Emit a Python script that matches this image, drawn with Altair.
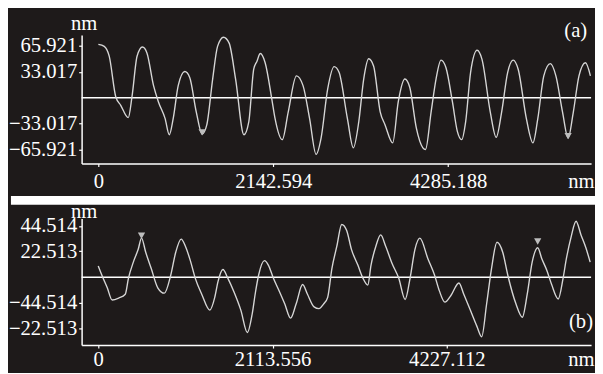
import altair as alt
import pandas as pd

# ---------------- Panel (a) ----------------
a_x = [0, 72, 133, 214, 274, 366, 414, 474, 540, 595, 676, 736, 817, 869, 917, 978,
       1059, 1119, 1199, 1271, 1328, 1400, 1460, 1533, 1602, 1681, 1783, 1843, 1903,
       1943, 1983, 2043, 2124, 2164, 2253, 2326, 2426, 2507, 2587, 2667, 2728, 2809,
       2888, 2949, 3050, 3123, 3190, 3250, 3311, 3371, 3452, 3512, 3605, 3673, 3754,
       3814, 3895, 3975, 4007, 4076, 4136, 4197, 4257, 4337, 4397, 4450, 4499, 4559,
       4639, 4699, 4800, 4873, 4940, 5013, 5081, 5142, 5242, 5323, 5383, 5456, 5536,
       5604, 5685, 5754, 5818, 5887, 5966, 6027]
a_y = [67.9, 65.4, 52.9, 0.9, -9.6, -25.4, 2.9, 52.9, 64.6, 57.1, 15.4, -5.4, -26.3,
       -47.1, -26.3, 15.4, 33.4, 25.9, -17.9, -46.3, -34.6, 23.8, 65.4, 77.1, 69.6,
       23.8, -47.1, -30.4, 36.3, 46.6, 56.3, 44.6, -1.3, -26.3, -53.4, -17.9, 27.9,
       15.4, -26.3, -72.1, -51.3, 11.3, 39.6, 32.1, -26.3, -63.8, -30.4, 23.8, 49.6,
       40.4, -17.9, -34.6, -57.5, -5.4, 23.8, 13.4, -38.8, -63.8, -65.9, -17.9, 23.8,
       47.9, 38.4, -5.4, -42.9, -53.4, -30.4, 32.1, 60.4, 48.8, -17.9, -50.4, -17.9,
       32.1, 47.9, 36.3, -26.3, -57.5, -26.3, 27.9, 43.4, 27.9, -17.9, -51.3, -17.9,
       27.9, 44.6, 27.9]
a_mark_x = [1271, 5754]
a_mark_y = [-44, -49]
a_xticks = [0, 2142.594, 4285.188]
a_xlabels = ["0", "2142.594", "4285.188"]
a_yticks = [65.921, 33.017, -33.017, -65.921]
a_ylabels = ["65.921", "33.017", "\u221233.017", "\u221265.921"]

# ---------------- Panel (b) ----------------
b_x = [0, 51, 110, 169, 249, 328, 367, 426, 485, 525, 577, 643, 722, 802, 880, 939,
       1006, 1057, 1117, 1176, 1255, 1353, 1413, 1453, 1512, 1571, 1649, 1729, 1808,
       1868, 1906, 1945, 2016, 2064, 2123, 2202, 2261, 2332, 2400, 2478, 2537, 2617,
       2676, 2735, 2782, 2833, 2893, 2952, 3011, 3070, 3149, 3209, 3268, 3307, 3366,
       3425, 3485, 3564, 3643, 3721, 3781, 3840, 3899, 3998, 4077, 4136, 4203, 4274,
       4373, 4432, 4511, 4590, 4649, 4709, 4768, 4834, 4905, 4965, 5064, 5142, 5201,
       5261, 5328, 5379, 5438, 5497, 5577, 5636, 5675, 5734, 5793, 5853, 5912, 5964]
b_y = [9.8, 0.6, -9.2, -19.8, -18.1, -14.8, -0.8, 13.1, 24.2, 33.9, 21.4, 7.5, -9.2,
       -13.9, 1.9, 21.4, 33.1, 26.9, 14.4, -0.8, -14.8, -28.6, -17.5, -3.6, 6.7, -0.8,
       -13.3, -28.6, -48.1, -31.4, -13.3, 1.9, 14.4, 10.3, -0.8, -13.3, -23.1, -35.6,
       -23.1, -6.4, -14.8, -25.8, -27.3, -23.1, -17.5, 7.5, 26.9, 45.8, 40.8, 24.2,
       10.3, -0.8, -6.9, 10.3, 26.9, 36.7, 26.9, 11.7, -0.8, -19.4, -0.8, 24.2, 33.9,
       15.8, 1.9, -11.9, -21.7, -16.1, -5.0, -14.8, -28.6, -42.5, -51.7, -23.1, 7.5,
       30.3, 21.4, 1.9, -23.1, -34.8, -14.8, 13.1, 25.6, 15.8, 6.1, -6.4, -18.9, -0.8,
       15.8, 35.3, 48.6, 36.7, 25.6, 13.1]
b_mark_x = [525, 5328]
b_mark_y = [36, 31]
b_xticks = [0, 2113.556, 4227.112]
b_xlabels = ["0", "2113.556", "4227.112"]
b_yticks = [44.514, 22.513, -22.513, -44.514]
b_ylabels = ["44.514", "22.513", "\u221244.514", "\u221222.513"]

FONT = "Liberation Serif"
BG = "#1e1a1a"
LINE = "#d6d6d6"
W = 519


def label_expr(vals, labels):
    expr = "''"
    for v, l in reversed(list(zip(vals, labels))):
        expr = f"abs(datum.value - ({v})) < 0.01 ? '{l}' : ({expr})"
    return expr


def panel(xs, ys, mx, my, xticks, xlabels, yticks, ylabels, xdom, ydom, H, tag, tag_y,
          tag_x, top_rect, ytitle_y, lab_pad, xtitle_y):
    df = pd.DataFrame({"x": xs, "y": ys})
    xsc = alt.Scale(domain=xdom, nice=False, zero=False)
    ysc = alt.Scale(domain=ydom, nice=False, zero=False)
    xaxis = alt.Axis(values=xticks, labelExpr=label_expr(xticks, xlabels), title="nm",
                     titleX=W + 3, titleY=xtitle_y, titleAlign="right", titleBaseline="top",
                     titleAnchor="end", tickSize=3, labelPadding=lab_pad, labelFlush=False,
                     labelOverlap=False)
    yaxis = alt.Axis(values=yticks, labelExpr=label_expr(yticks, ylabels), title="nm",
                     titleAngle=0, titleX=2, titleY=ytitle_y, titleAlign="center",
                     titleBaseline="alphabetic", tickSize=3, labelPadding=2,
                     labelOverlap=False, labelFlush=False)
    line = alt.Chart(df).mark_line(color=LINE, strokeWidth=1.4, interpolate="monotone").encode(
        x=alt.X("x:Q", scale=xsc, axis=xaxis),
        y=alt.Y("y:Q", scale=ysc, axis=yaxis),
    )
    zero = alt.Chart(pd.DataFrame({"y": [0]})).mark_rule(color="white", strokeWidth=1.6).encode(
        y=alt.Y("y:Q", scale=ysc)
    )
    marks = alt.Chart(pd.DataFrame({"x": mx, "y": my})).mark_point(
        shape="triangle-down", filled=True, size=55, color="#bdbdbd", opacity=1
    ).encode(x=alt.X("x:Q", scale=xsc), y=alt.Y("y:Q", scale=ysc))
    label = alt.Chart(alt.Data(values=[{}])).mark_text(
        text=tag, align="right", baseline="middle", font=FONT, fontSize=21, color="white"
    ).encode(x=alt.value(tag_x), y=alt.value(tag_y))
    layers = [zero, line, marks, label]
    if top_rect:
        rect = alt.Chart(alt.Data(values=[{}])).mark_rect(color="white").encode(
            x=alt.value(-72), x2=alt.value(W + 4), y=alt.value(-23), y2=alt.value(-14)
        )
        layers = [rect] + layers
    return alt.layer(*layers).properties(width=W, height=H)


pa = panel(a_x, a_y, a_mark_x, a_mark_y, a_xticks, a_xlabels, a_yticks, a_ylabels,
           [-205, 6035], [-83.75, 80], 131, "(a)", -4, W - 4, False, -5, 4, 7)
pb = panel(b_x, b_y, b_mark_x, b_mark_y, b_xticks, b_xlabels, b_yticks, b_ylabels,
           [-201, 5975], [-59, 51], 129, "(b)", 106, W + 2, True, -1, 1, 4)

chart = alt.vconcat(pa, pb, spacing=5).configure(
    background=BG, padding={"left": 0, "top": 2, "right": 0, "bottom": 0}
).configure_view(stroke=None).configure_axis(
    domainColor="white", tickColor="white", labelColor="white", titleColor="white",
    labelFont=FONT, titleFont=FONT, labelFontSize=21, titleFontSize=21,
    titleFontWeight="normal", grid=False, domainWidth=1.5, tickWidth=1.2
)

chart.save("out.html", embed_options={"renderer": "svg", "actions": False})
